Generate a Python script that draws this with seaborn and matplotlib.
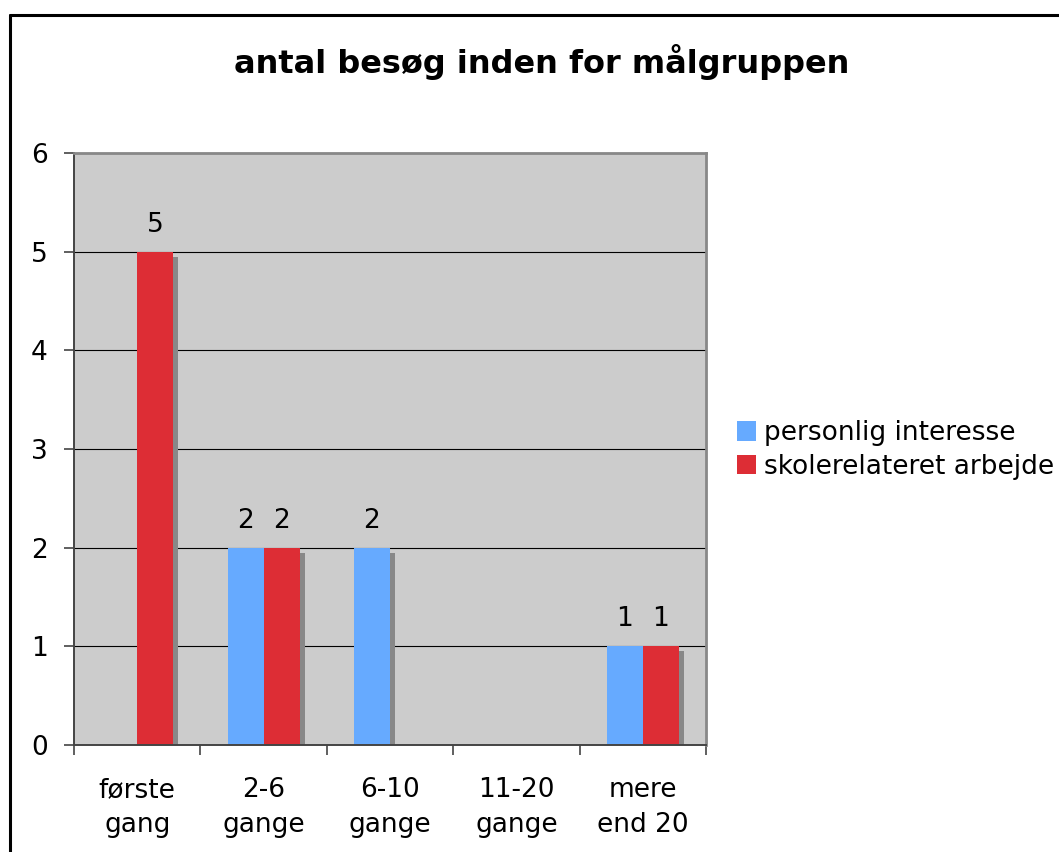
import matplotlib
matplotlib.use("Agg")
import matplotlib.pyplot as plt
import matplotlib.transforms as mtransforms
from matplotlib.patches import Rectangle, Patch
from matplotlib.lines import Line2D
import seaborn as sns
import pandas as pd
import numpy as np

categories = ["første\ngang", "2-6\ngange", "6-10\ngange", "11-20\ngange", "mere\nend 20"]
series_names = ["personlig interesse", "skolerelateret arbejde"]
personlig = [0, 2, 2, 0, 1]
skole = [5, 2, 0, 0, 1]
colors = ["#66AAFF", "#DD2D35"]
title = "antal besøg inden for målgruppen"
yticks = [0, 1, 2, 3, 4, 5, 6]

df = pd.DataFrame({
    "kategori": categories * 2,
    "serie": [series_names[0]] * len(categories) + [series_names[1]] * len(categories),
    "antal": personlig + skole,
})

sns.set_style("white")
plt.rcParams['font.family'] = ['DejaVu Sans']
plt.rcParams['text.color'] = 'black'
plt.rcParams['xtick.labelcolor'] = 'black'
plt.rcParams['ytick.labelcolor'] = 'black'

fig = plt.figure(figsize=(10.59, 8.52), dpi=100)
ax = fig.add_axes([74 / 1059, 1 - 745 / 852, (706 - 74) / 1059, (745 - 153) / 852])
ax.set_facecolor("#CCCCCC")

sns.barplot(data=df, x="kategori", y="antal", hue="serie", order=categories,
            hue_order=series_names, palette=colors, saturation=1, width=0.57,
            dodge=True, ax=ax, legend=False, zorder=2, linewidth=0, edgecolor="none")

# shadows
offset = mtransforms.ScaledTranslation(5 / 100, -5 / 100, fig.dpi_scale_trans)
for p in list(ax.patches):
    if p.get_height() > 0:
        sh = Rectangle(p.get_xy(), p.get_width(), p.get_height(), facecolor="#888888",
                       edgecolor="none", transform=ax.transData + offset, zorder=1.5)
        ax.add_patch(sh)

for cont in ax.containers:
    labels = [f"{v:g}" if v > 0 else "" for v in cont.datavalues]
    ax.bar_label(cont, labels=labels, padding=10, fontsize=19, color="black")

ax.set_ylim(0, 6)
ax.set_xlim(-0.5, len(categories) - 0.5)
ax.set_yticks(yticks)
ax.set_yticklabels([str(t) for t in yticks], fontsize=19)
ax.yaxis.grid(True, color="black", linewidth=0.8, zorder=0)
ax.set_axisbelow(True)

ax.set_xticks(np.arange(-0.5, len(categories), 1.0))
ax.set_xticklabels([])
ax.set_xticks(np.arange(len(categories)), minor=True)
ax.set_xticklabels(categories, minor=True, fontsize=19, linespacing=1.45)
ax.tick_params(axis="x", which="minor", length=0, pad=23)
ax.tick_params(axis="x", which="major", length=7, width=1.2, color="#444444", direction="out", bottom=True)
ax.tick_params(axis="y", length=7, width=1.2, color="#444444", direction="out", left=True, pad=12)
ax.set_xlabel("")
ax.set_ylabel("")

for side in ["left", "bottom"]:
    ax.spines[side].set_color("#444444")
    ax.spines[side].set_linewidth(1.4)
for side in ["top", "right"]:
    ax.spines[side].set_color("#888888")
    ax.spines[side].set_linewidth(2)
    ax.spines[side].set_visible(True)

fig.text(542 / 1059, 1 - 62 / 852, title, ha="center", va="center", fontsize=23, fontweight="bold",
         color="black")

handles = [Patch(facecolor=c, edgecolor="none") for c in colors]
fig.legend(handles, series_names, loc="center left", bbox_to_anchor=(726 / 1059, 1 - 450 / 852),
           frameon=False, fontsize=19, handlelength=0.75, handleheight=0.75,
           handletextpad=0.3, labelspacing=0.3, borderaxespad=0)

# outer frame (top and left)
fig.add_artist(Line2D([9.5 / 1059, 9.5 / 1059], [0, 1 - 14.5 / 852], color="black", linewidth=2.2,
                      transform=fig.transFigure))
fig.add_artist(Line2D([9.5 / 1059, 1], [1 - 14.5 / 852, 1 - 14.5 / 852], color="black", linewidth=2.2,
                      transform=fig.transFigure))

fig.savefig("out.png", dpi=100, facecolor="white")
